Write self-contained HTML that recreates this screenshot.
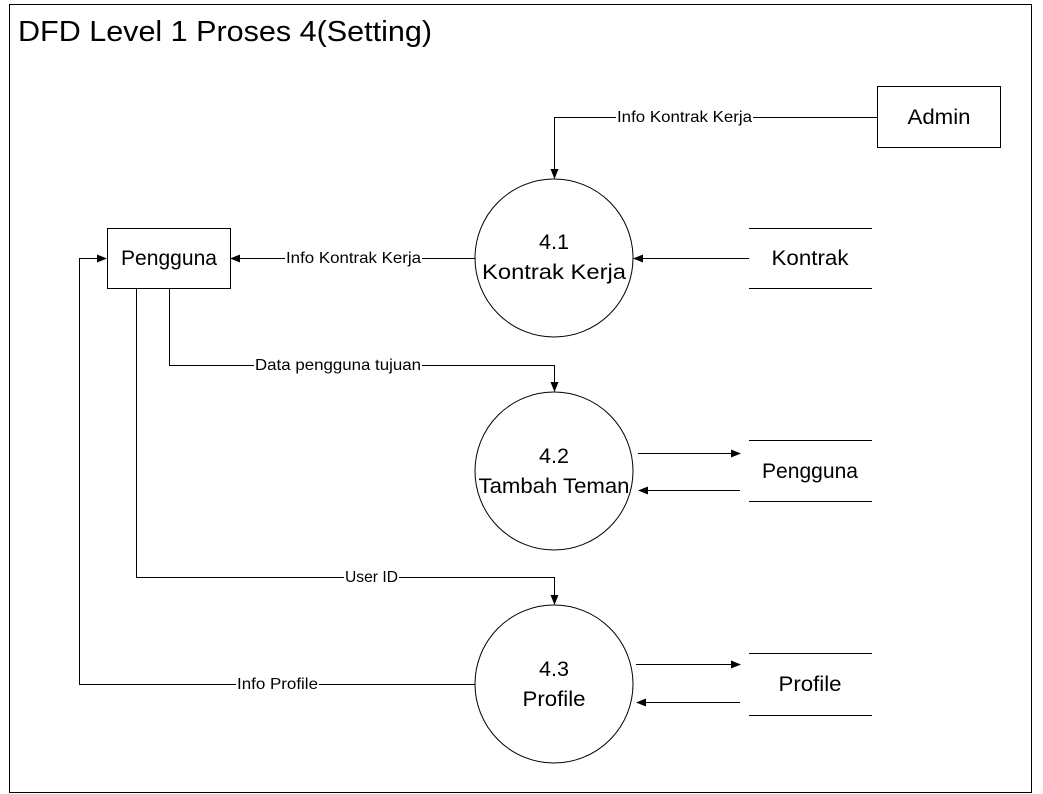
<!DOCTYPE html>
<html><head><meta charset="utf-8"><style>
html,body{margin:0;padding:0;background:#fff;}
svg{display:block;}
text{font-family:"Liberation Sans",sans-serif;fill:#000;}
.l{font-size:16px;}
.n{font-size:21px;}
</style></head><body>
<svg width="1043" height="794" viewBox="0 0 1043 794">
<defs><marker id="a" markerWidth="10" markerHeight="8" refX="9" refY="4" orient="auto" markerUnits="userSpaceOnUse"><path d="M0,0 L10,4 L0,8 z" fill="#000"/></marker></defs>
<rect x="9.5" y="4.5" width="1022" height="788" fill="none" stroke="#000" stroke-width="1"/>
<text x="18" y="41" style="font-size:29px" textLength="414" lengthAdjust="spacingAndGlyphs">DFD Level 1 Proses 4(Setting)</text>
<g fill="none" stroke="#000" stroke-width="1">
<rect x="877.5" y="86.5" width="123" height="61"/>
<rect x="107.5" y="228.5" width="123" height="60"/>
<circle cx="554" cy="258" r="79"/>
<circle cx="554" cy="471" r="79"/>
<circle cx="554" cy="684" r="79"/>
<path d="M749 228.5H872M749 288.5H872M749 440.5H872M749 501.5H872M749 653.5H872M749 715.5H872"/>
<path d="M877 117.5H554.5V178" marker-end="url(#a)"/>
<path d="M475 258.5H231" marker-end="url(#a)"/>
<path d="M749 258.5H634" marker-end="url(#a)"/>
<path d="M169.5 289V365.5H554.5V391" marker-end="url(#a)"/>
<path d="M638 453.5H740" marker-end="url(#a)"/>
<path d="M740 490.5H639" marker-end="url(#a)"/>
<path d="M136.5 289V577.5H554.5V604" marker-end="url(#a)"/>
<path d="M475 684.5H79.5V258.5H106" marker-end="url(#a)"/>
<path d="M636 664.5H740" marker-end="url(#a)"/>
<path d="M740 702.5H637" marker-end="url(#a)"/>
</g>
<g class="l">
<rect x="616" y="108" width="137" height="18" fill="#fff"/><text x="617" y="122" textLength="135" lengthAdjust="spacingAndGlyphs">Info Kontrak Kerja</text>
<rect x="285" y="249" width="137" height="18" fill="#fff"/><text x="286" y="263" textLength="135" lengthAdjust="spacingAndGlyphs">Info Kontrak Kerja</text>
<rect x="254" y="356" width="168" height="18" fill="#fff"/><text x="255" y="370" textLength="166" lengthAdjust="spacingAndGlyphs">Data pengguna tujuan</text>
<rect x="344" y="568" width="55" height="18" fill="#fff"/><text x="345" y="582" textLength="53" lengthAdjust="spacingAndGlyphs">User ID</text>
<rect x="236" y="675" width="83" height="18" fill="#fff"/><text x="237" y="689" textLength="81" lengthAdjust="spacingAndGlyphs">Info Profile</text>
</g>
<g class="n" text-anchor="middle">
<text x="939" y="124" textLength="63" lengthAdjust="spacingAndGlyphs">Admin</text>
<text x="169" y="265" textLength="96" lengthAdjust="spacingAndGlyphs">Pengguna</text>
<text x="810" y="265" textLength="77" lengthAdjust="spacingAndGlyphs">Kontrak</text>
<text x="810" y="478" textLength="96" lengthAdjust="spacingAndGlyphs">Pengguna</text>
<text x="810" y="691" textLength="63" lengthAdjust="spacingAndGlyphs">Profile</text>
<text x="554" y="249" textLength="30" lengthAdjust="spacingAndGlyphs">4.1</text><text x="554" y="279" textLength="144" lengthAdjust="spacingAndGlyphs">Kontrak Kerja</text>
<text x="554" y="463" textLength="30" lengthAdjust="spacingAndGlyphs">4.2</text><text x="554" y="493" textLength="151" lengthAdjust="spacingAndGlyphs">Tambah Teman</text>
<text x="554" y="676" textLength="30" lengthAdjust="spacingAndGlyphs">4.3</text><text x="554" y="706" textLength="63" lengthAdjust="spacingAndGlyphs">Profile</text>
</g>
</svg>
</body></html>
